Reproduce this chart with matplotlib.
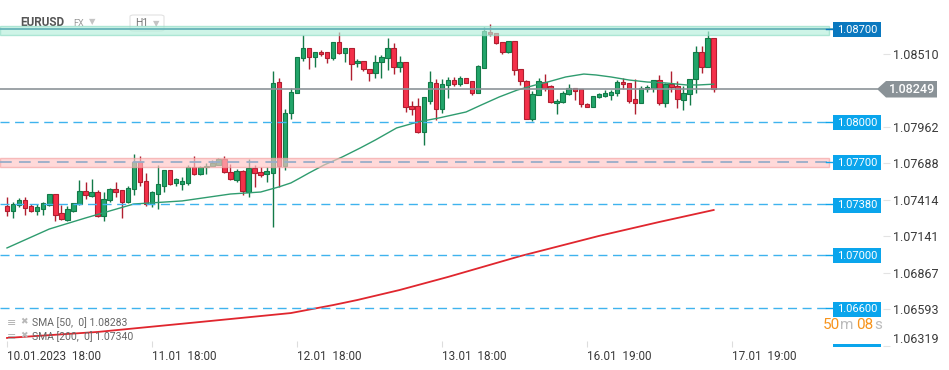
import matplotlib
matplotlib.use('Agg')
import matplotlib.pyplot as plt
from matplotlib.patches import Rectangle, Polygon, FancyBboxPatch
import numpy as np

plt.rcParams['font.family'] = ['Roboto', 'DejaVu Sans']

# ---------------- data (EURUSD, H1) ----------------
opens = [1.07368, 1.07328, 1.07378, 1.07411, 1.07368, 1.07328, 1.07348, 1.07378, 1.07456, 1.07313,
         1.07261, 1.07328, 1.07381, 1.07478, 1.07445, 1.07471, 1.07291, 1.07411, 1.07493, 1.07486,
         1.07400, 1.07493, 1.07696, 1.07553, 1.07381, 1.07460, 1.07520, 1.07636, 1.07538, 1.07535,
         1.07538, 1.07659, 1.07606, 1.07659, 1.07671, 1.07678, 1.07719, 1.07626, 1.07565, 1.07631,
         1.07475, 1.07651, 1.07623, 1.07611, 1.07618, 1.08299, 1.07671, 1.08064, 1.08214, 1.08477,
         1.08552, 1.08485, 1.08525, 1.08522, 1.08477, 1.08597, 1.08515, 1.08552, 1.08440, 1.08455,
         1.08395, 1.08365, 1.08447, 1.08477, 1.08552, 1.08414, 1.08447, 1.08119, 1.08119, 1.07926,
         1.08153, 1.08289, 1.08094, 1.08273, 1.08312, 1.08282, 1.08327, 1.08307, 1.08219, 1.08408,
         1.08672, 1.08665, 1.08597, 1.08521, 1.08605, 1.08395, 1.08307, 1.08024, 1.08199, 1.08299,
         1.08267, 1.08139, 1.08147, 1.08207, 1.08252, 1.08244, 1.08132, 1.08114, 1.08184, 1.08196,
         1.08204, 1.08214, 1.08299, 1.08289, 1.08172, 1.08139, 1.08247, 1.08252, 1.08312, 1.08139,
         1.08282, 1.08271, 1.08162, 1.08207, 1.08320, 1.08522, 1.08414, 1.08627]
highs = [1.07436, 1.07400, 1.07430, 1.07433, 1.07381, 1.07385, 1.07400, 1.07460, 1.07460, 1.07375,
         1.07368, 1.07393, 1.07563, 1.07546, 1.07571, 1.07486, 1.07475, 1.07505, 1.07546, 1.07488,
         1.07516, 1.07758, 1.07741, 1.07616, 1.07481, 1.07676, 1.07638, 1.07638, 1.07580, 1.07583,
         1.07676, 1.07743, 1.07672, 1.07689, 1.07713, 1.07725, 1.07743, 1.07683, 1.07646, 1.07635,
         1.07719, 1.07676, 1.07663, 1.07663, 1.08382, 1.08327, 1.08094, 1.08252, 1.08487, 1.08652,
         1.08555, 1.08525, 1.08540, 1.08525, 1.08600, 1.08672, 1.08555, 1.08555, 1.08472, 1.08457,
         1.08397, 1.08502, 1.08502, 1.08630, 1.08590, 1.08494, 1.08449, 1.08157, 1.08179, 1.08190,
         1.08382, 1.08320, 1.08318, 1.08337, 1.08337, 1.08344, 1.08329, 1.08310, 1.08427, 1.08715,
         1.08735, 1.08667, 1.08600, 1.08607, 1.08607, 1.08397, 1.08314, 1.08235, 1.08329, 1.08359,
         1.08277, 1.08172, 1.08234, 1.08282, 1.08254, 1.08247, 1.08139, 1.08194, 1.08213, 1.08239,
         1.08239, 1.08314, 1.08327, 1.08292, 1.08320, 1.08271, 1.08277, 1.08314, 1.08352, 1.08289,
         1.08382, 1.08307, 1.08271, 1.08324, 1.08567, 1.08567, 1.08682, 1.08630]
lows = [1.07295, 1.07280, 1.07363, 1.07303, 1.07323, 1.07303, 1.07303, 1.07370, 1.07258, 1.07263,
        1.07258, 1.07325, 1.07375, 1.07421, 1.07438, 1.07288, 1.07258, 1.07400, 1.07438, 1.07280,
        1.07393, 1.07451, 1.07520, 1.07370, 1.07360, 1.07345, 1.07475, 1.07528, 1.07520, 1.07486,
        1.07526, 1.07603, 1.07603, 1.07611, 1.07668, 1.07676, 1.07618, 1.07565, 1.07550, 1.07451,
        1.07438, 1.07513, 1.07588, 1.07546, 1.07213, 1.07513, 1.07638, 1.08021, 1.08213, 1.08459,
        1.08395, 1.08410, 1.08494, 1.08440, 1.08464, 1.08507, 1.08452, 1.08314, 1.08414, 1.08382,
        1.08309, 1.08329, 1.08327, 1.08389, 1.08359, 1.08377, 1.08076, 1.08051, 1.07916, 1.07826,
        1.08134, 1.08014, 1.08070, 1.08177, 1.08271, 1.08269, 1.08289, 1.08198, 1.08217, 1.08401,
        1.08647, 1.08588, 1.08507, 1.08517, 1.08352, 1.08273, 1.08019, 1.08006, 1.08198, 1.08234,
        1.08145, 1.08057, 1.08139, 1.08199, 1.08164, 1.08109, 1.08109, 1.08111, 1.08177, 1.08189,
        1.08164, 1.08194, 1.08244, 1.08139, 1.08059, 1.08138, 1.08222, 1.08222, 1.08126, 1.08114,
        1.08226, 1.08104, 1.08089, 1.08129, 1.08219, 1.08365, 1.08414, 1.08226]
closes = [1.07328, 1.07381, 1.07411, 1.07351, 1.07328, 1.07358, 1.07388, 1.07456, 1.07303, 1.07268,
          1.07343, 1.07388, 1.07481, 1.07453, 1.07471, 1.07293, 1.07418, 1.07493, 1.07475, 1.07400,
          1.07501, 1.07696, 1.07546, 1.07381, 1.07471, 1.07531, 1.07636, 1.07531, 1.07568, 1.07556,
          1.07659, 1.07606, 1.07661, 1.07671, 1.07693, 1.07719, 1.07621, 1.07568, 1.07631, 1.07478,
          1.07653, 1.07618, 1.07601, 1.07631, 1.08292, 1.07671, 1.08064, 1.08224, 1.08485, 1.08552,
          1.08485, 1.08522, 1.08507, 1.08477, 1.08597, 1.08515, 1.08552, 1.08432, 1.08455, 1.08395,
          1.08365, 1.08447, 1.08485, 1.08552, 1.08414, 1.08447, 1.08109, 1.08100, 1.07926, 1.08184,
          1.08297, 1.08094, 1.08282, 1.08312, 1.08282, 1.08327, 1.08294, 1.08214, 1.08416, 1.08682,
          1.08662, 1.08590, 1.08521, 1.08605, 1.08387, 1.08303, 1.08025, 1.08209, 1.08304, 1.08256,
          1.08147, 1.08157, 1.08214, 1.08252, 1.08234, 1.08132, 1.08114, 1.08192, 1.08207, 1.08217,
          1.08224, 1.08299, 1.08282, 1.08159, 1.08139, 1.08252, 1.08262, 1.08312, 1.08139, 1.08282,
          1.08264, 1.08169, 1.08214, 1.08320, 1.08522, 1.08414, 1.08627, 1.08249]

sma50_pos = [0, 7, 13, 21, 29, 37, 42, 45, 47, 48.5, 50, 52.5, 55.5, 58.5, 61, 64.5, 68, 71.5,
             76, 78.5, 81.5, 84.5, 87.5, 89.5, 92.5, 95.5, 97.5, 100, 103, 106, 109, 112.5, 114.5, 117]
sma50_val = [1.07053, 1.07195, 1.07278, 1.07383, 1.07406, 1.07458, 1.07473, 1.07511, 1.07541,
             1.07578, 1.07616, 1.07676, 1.07736, 1.07804, 1.07864, 1.07954, 1.07999, 1.08029,
             1.08074, 1.08126, 1.08187, 1.08239, 1.08277, 1.08299, 1.08337, 1.08359, 1.08352,
             1.08337, 1.08314, 1.08299, 1.08292, 1.08277, 1.08277, 1.08283]
sma200_pos = [0, 15, 32, 47, 54, 58, 65, 73, 85, 98, 108, 117]
sma200_val = [1.06377, 1.06422, 1.06497, 1.06564, 1.06624, 1.06662, 1.06737, 1.06835,
              1.06992, 1.07143, 1.07248, 1.07338]

xtick_pos = [0, 24, 48, 72, 96, 120]
xtick_labels = ['10.01.2023  18:00', '11.01  18:00', '12.01  18:00', '13.01  18:00',
                '16.01  19:00', '17.01  19:00']
ytick_vals = [1.08510, 1.07962, 1.07688, 1.07414, 1.07141, 1.06867, 1.06593, 1.06319]

level_lines = [1.08000, 1.07380, 1.07000, 1.06600]
zone_top = (1.08655, 1.08722, 1.08700)   # lo, hi, level
zone_mid = (1.07663, 1.07728, 1.07700)
last_price = 1.08249
sma50_last = 1.08283
sma200_last = 1.07340

# ---------------- layout helpers ----------------
W, H = 949, 370
PX_PER_BAR = 6.04
X0PX = 7
Y_TOP = 1.08915
PRICE_PER_PX = 0.0000751
AX_R, AX_B = 883, 347


def X(px):
    return (px - X0PX) / PX_PER_BAR


def Y(py):
    return Y_TOP - py * PRICE_PER_PX


fig = plt.figure(figsize=(W / 100, H / 100), dpi=100)
fig.patch.set_facecolor('white')
ax = fig.add_axes([0, (H - AX_B) / H, AX_R / W, AX_B / H])
ax.set_xlim(X(0), X(AX_R))
ax.set_ylim(Y(AX_B), Y(0))
for s in ax.spines.values():
    s.set_visible(False)

# ---------------- candles ----------------
idx = np.arange(len(opens))
o = np.array(opens); c = np.array(closes); h = np.array(highs); l = np.array(lows)
up = c >= o
face = np.where(up, '#22a56a', '#f4304a')
edge = np.where(up, '#137a48', '#b01f30')
ax.vlines(idx, l, h, colors=edge, lw=1.0, zorder=2)
body_h = np.maximum(np.abs(c - o), 1.3 * PRICE_PER_PX)
ax.bar(idx, body_h, bottom=np.minimum(o, c), width=0.74, color=face, edgecolor=edge,
       linewidth=0.8, zorder=3)

# ---------------- SMA lines ----------------
ax.plot(sma50_pos, sma50_val, color='#2f9c6f', lw=1.0, zorder=4)
ax.plot(sma200_pos, sma200_val, color='#e0262e', lw=1.3, zorder=4)

# ---------------- levels ----------------
xr_line = X(828)
for lv in level_lines:
    ax.plot([X(0), xr_line], [lv, lv], color='#3fb3ee', lw=1.0,
            linestyle=(0, (6.5, 4)), zorder=5)

# zones
lo, hi, lv = zone_top
ax.add_patch(Rectangle((X(0), lo), X(829) - X(0), hi - lo, facecolor='#b4efdb',
                       edgecolor='#8edcc4', lw=1.0, alpha=0.65, zorder=6))
ax.plot([X(0), X(833)], [lv, lv], color='#66b3b8', lw=1.3, zorder=7, clip_on=False)
lo, hi, lv = zone_mid
ax.add_patch(Rectangle((X(0), lo), X(829) - X(0), hi - lo, facecolor='#ffc6c6',
                       edgecolor='#f4a0a0', lw=1.0, alpha=0.65, zorder=6))
ax.plot([X(0), xr_line], [lv, lv], color='#98adc9', lw=1.3,
        linestyle=(0, (6.5, 4)), zorder=7)

# current price line
ax.plot([X(0), X(877)], [last_price, last_price], color='#8c9398', lw=1.2, zorder=5,
        clip_on=False)

# level labels
box_h = 15 * PRICE_PER_PX
for lv, col in [(zone_top[2], '#0a78bf'), (zone_mid[2], '#0aa5ec')] + \
        [(v, '#0aa5ec') for v in level_lines]:
    ax.plot([X(826), X(833)], [lv, lv], color=col, lw=1.0, zorder=8, clip_on=False)
    ax.add_patch(Rectangle((X(833), lv - box_h / 2 - 1 * PRICE_PER_PX), X(881) - X(833), box_h,
                           facecolor=col, edgecolor='none', zorder=8, clip_on=False))
    ax.text(X(857), lv - 1 * PRICE_PER_PX, f'{lv:.5f}', color='white', fontsize=8,
            ha='center', va='center', zorder=9, clip_on=False)
# partially hidden label at bottom
ax.add_patch(Rectangle((X(833), Y(347)), X(881) - X(833), 3.5 * PRICE_PER_PX,
                       facecolor='#0aa5ec', edgecolor='none', zorder=8, clip_on=False))

# current price arrow label
pts = [(X(877), Y(89)), (X(886), Y(81)), (X(937), Y(81)), (X(937), Y(97.5)), (X(886), Y(97.5))]
ax.add_patch(Polygon(pts, closed=True, facecolor='#8a9297', edgecolor='none', zorder=9,
                     clip_on=False))
ax.text(X(912), Y(89.3), f'{last_price:.5f}', color='white', fontsize=9, fontweight='medium',
        ha='center', va='center', zorder=10, clip_on=False)

# ---------------- axes ticks ----------------
ax.yaxis.tick_right()
ax.set_yticks(ytick_vals)
ax.set_yticklabels([f'{v:.5f}' for v in ytick_vals])
ax.tick_params(axis='y', length=5, color='#e3e3e3', labelsize=9, labelcolor='#3a3a3a', pad=2)
ax.get_yticklabels()[-1].set_va('bottom')
ax.set_xticks(xtick_pos)
ax.set_xticklabels(xtick_labels)
for t in ax.get_xticklabels():
    t.set_ha('left')
ax.tick_params(axis='x', length=4, direction='in', color='#dddddd', labelsize=8.5,
               labelcolor='#3a3a3a', pad=2)

# ---------------- title ----------------
tf = fig.transFigure


def fx(px):
    return px / W


def fy(py):
    return 1 - py / H


ax.text(fx(20), fy(22.5), 'EURUSD', transform=tf, fontsize=8.5, fontweight='bold',
        color='#555555', va='center', ha='left', zorder=1)
ax.text(fx(73), fy(23.5), 'FX', transform=tf, fontsize=6.5, color='#9a9a9a',
        va='center', ha='left', zorder=1)
ax.text(fx(89), fy(21.5), '▼', transform=tf, fontsize=6, color='#c4c4c4',
        va='center', ha='left', zorder=1, family=['DejaVu Sans'])
ax.add_patch(FancyBboxPatch((fx(130), fy(31)), fx(34), 16 / H,
                            boxstyle='round,pad=0,rounding_size=0.004', transform=tf,
                            facecolor='white', edgecolor='#e2e2e2', lw=0.8, zorder=1,
                            clip_on=False))
ax.text(fx(135), fy(23), 'H1', transform=tf, fontsize=7.5, color='#777777',
        va='center', ha='left', zorder=1)
ax.text(fx(153), fy(23.5), '▼', transform=tf, fontsize=6, color='#c4c4c4',
        va='center', ha='left', zorder=1, family=['DejaVu Sans'])

# ---------------- SMA legend ----------------
for py, txt in [(323, f'SMA [50,  0] {sma50_last:.5f}'),
                (337, f'SMA [200,  0] {sma200_last:.5f}')]:
    ax.text(fx(7), fy(py), '≡', transform=tf, fontsize=8, color='#b0b0b0',
            va='center', ha='left', zorder=11, family=['DejaVu Sans'])
    ax.text(fx(20), fy(py - 1), '✖', transform=tf, fontsize=6.5, color='#b8b8b8',
            va='center', ha='left', zorder=11, family=['DejaVu Sans'])
    ax.text(fx(32), fy(py), txt, transform=tf, fontsize=7.5, color='#666666',
            va='center', ha='left', zorder=11)

# ---------------- countdown ----------------
for px, s, col, fs in [(823, '50', '#f7941d', 11), (840, 'm', '#bcbcbc', 11),
                       (856, '08', '#f7941d', 11), (874, 's', '#bcbcbc', 11)]:
    ax.text(fx(px), fy(325), s, transform=tf, fontsize=fs, color=col,
            va='center', ha='left', zorder=11)

fig.savefig('out.png', dpi=100, facecolor='white')
